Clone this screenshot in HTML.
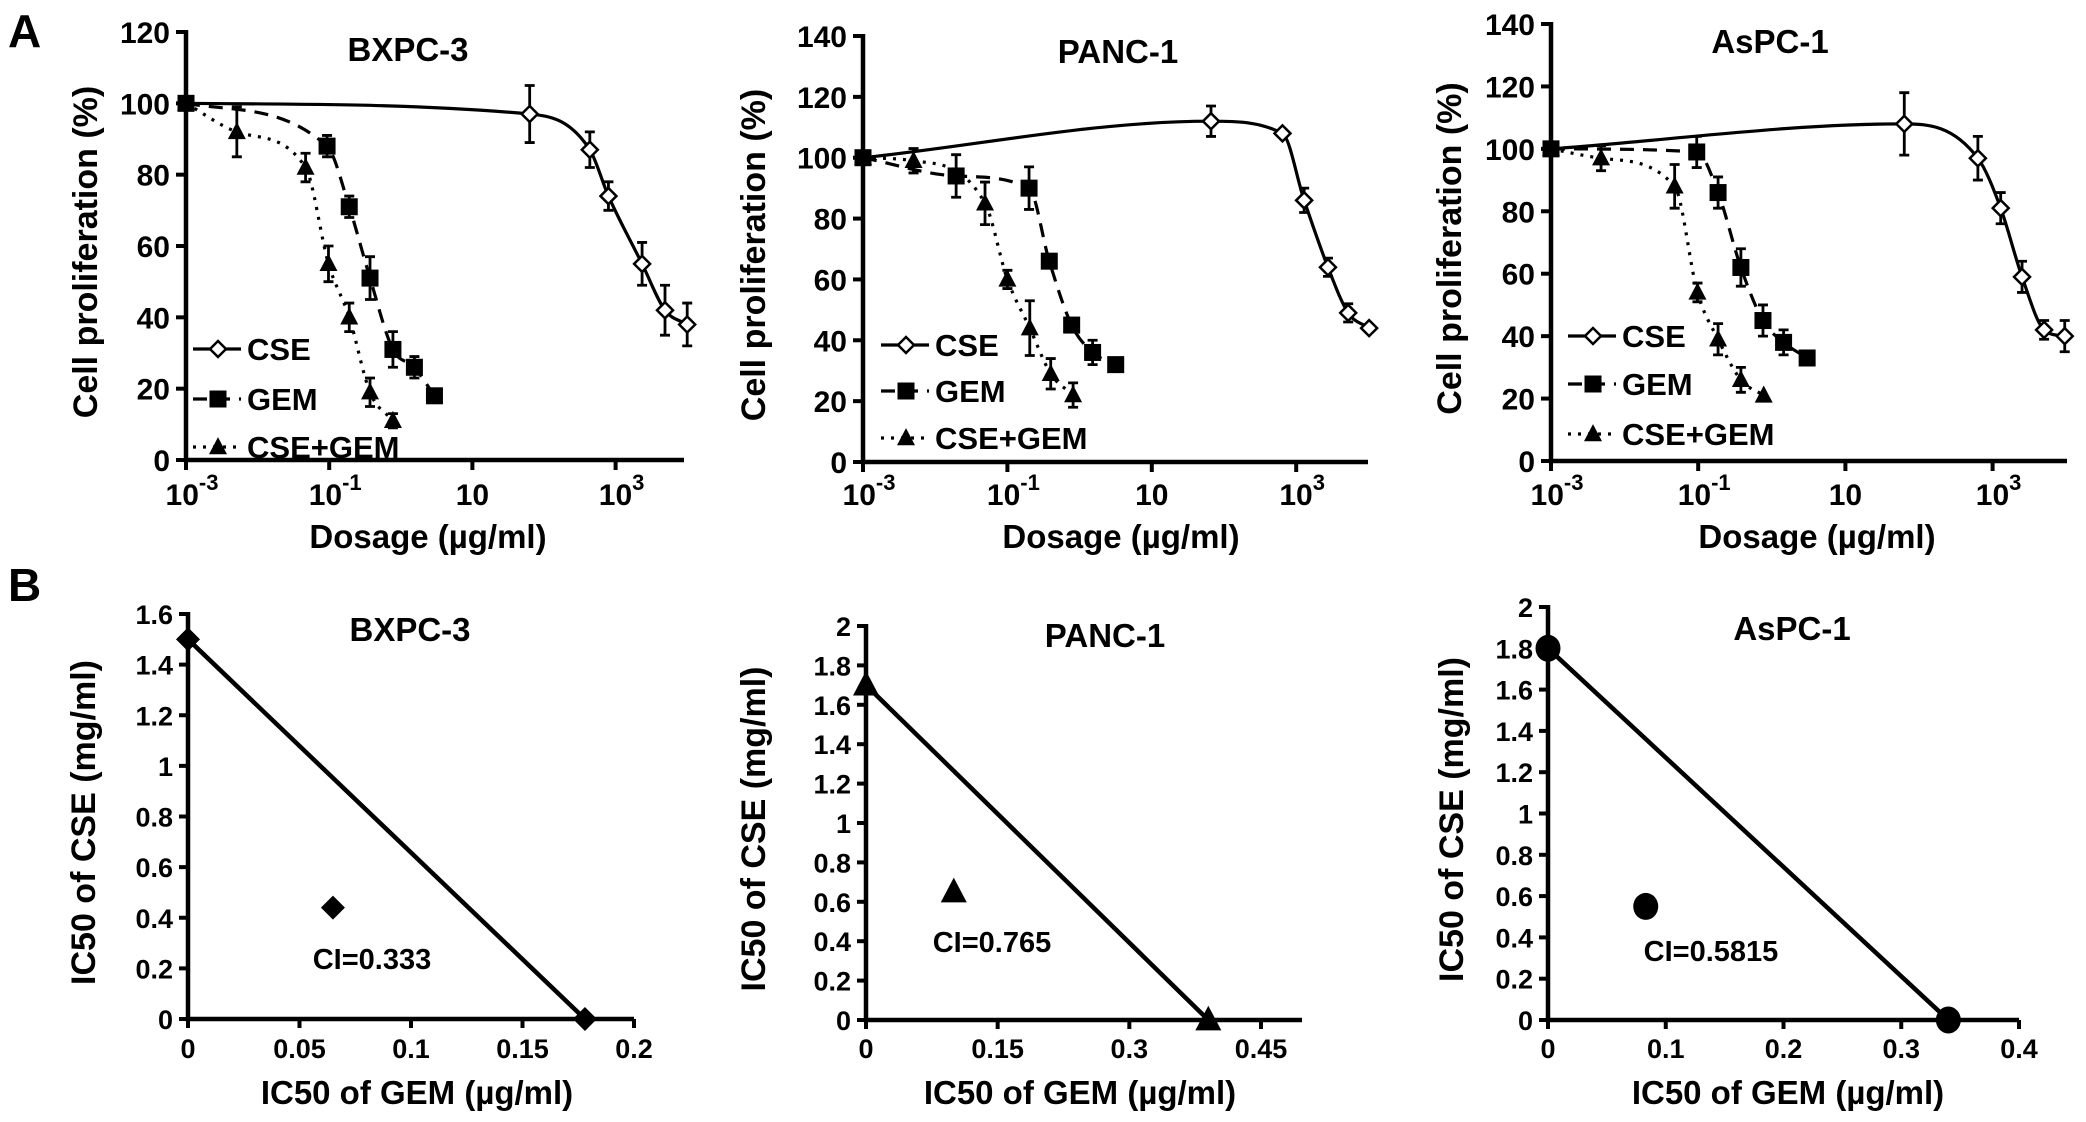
<!DOCTYPE html>
<html><head><meta charset="utf-8">
<style>
html,body{margin:0;padding:0;background:#fff;}
svg{display:block;font-family:"Liberation Sans",Arial,sans-serif;font-weight:bold;}
</style></head>
<body>
<svg id="fig" width="2086" height="1122" viewBox="0 0 2086 1122" xmlns="http://www.w3.org/2000/svg">
<rect width="2086" height="1122" fill="#fff"/>
<text x="8" y="47" font-size="46">A</text>
<text x="8" y="601" font-size="46">B</text>
</svg>
<script>
// ---------- Panel A data (log10 dose, % proliferation, error) ----------
const bxCseX = [-3, 1.8, 2.64, 2.9, 3.37, 3.69, 4.0];
const bxCseY = [100, 97, 87, 74, 55, 42, 38];
const bxCseE = [0, 8, 5, 4, 6, 7, 6];
const bxGemX = [-3, -1.03, -0.72, -0.43, -0.11, 0.19, 0.47];
const bxGemY = [100, 88, 71, 51, 31, 26, 18];
const bxGemE = [0, 3, 3, 6, 5, 3, 0];
const bxCgX = [-3, -2.29, -1.33, -1.01, -0.72, -0.43, -0.11];
const bxCgY = [100, 92, 82, 55, 40, 19, 11];
const bxCgE = [0, 7, 4, 5, 4, 4, 2];

const paCseX = [-3, 1.82, 2.81, 3.11, 3.44, 3.72, 4.01];
const paCseY = [100, 112, 108, 86, 64, 49, 44];
const paCseE = [0, 5, 0, 4, 3, 3, 0];
const paGemX = [-3, -1.71, -0.70, -0.42, -0.11, 0.18, 0.50];
const paGemY = [100, 94, 90, 66, 45, 36, 32];
const paGemE = [0, 7, 7, 2, 2, 4, 2];
const paCgX = [-3, -2.30, -1.31, -1.0, -0.69, -0.40, -0.09];
const paCgY = [100, 99, 85, 60, 44, 29, 22];
const paCgE = [0, 4, 7, 3, 9, 5, 4];

const asCseX = [-3, 1.80, 2.80, 3.11, 3.40, 3.70, 3.98];
const asCseY = [100, 108, 97, 81, 59, 42, 40];
const asCseE = [0, 10, 7, 5, 5, 3, 5];
const asGemX = [-3, -1.02, -0.73, -0.42, -0.12, 0.16, 0.48];
const asGemY = [100, 99, 86, 62, 45, 38, 33];
const asGemE = [0, 5, 5, 6, 5, 4, 2];
const asCgX = [-3, -2.32, -1.32, -1.01, -0.73, -0.42, -0.11];
const asCgY = [100, 97, 88, 54, 39, 26, 21];
const asCgE = [0, 4, 7, 3, 5, 4, 0];

const yTicksA1 = [0, 20, 40, 60, 80, 100, 120];
const yTicksA23 = [0, 20, 40, 60, 80, 100, 120, 140];
const xTickExp = [-3, -1, 1, 3];
const seriesNames = ["CSE", "GEM", "CSE+GEM"];

// ---------- Panel B data ----------
const bxIsoGem = [0, 0.178];
const bxIsoCse = [1.5, 0];
const bxCombo = [0.065, 0.44];
const paIsoGem = [0, 0.39];
const paIsoCse = [1.7, 0];
const paCombo = [0.1, 0.65];
const asIsoGem = [0, 0.34];
const asIsoCse = [1.8, 0];
const asCombo = [0.083, 0.55];
const bxXTicks = [0, 0.05, 0.1, 0.15, 0.2];
const bxYTicks = [0, 0.2, 0.4, 0.6, 0.8, 1, 1.2, 1.4, 1.6];
const paXTicks = [0, 0.15, 0.3, 0.45];
const paYTicks = [0, 0.2, 0.4, 0.6, 0.8, 1, 1.2, 1.4, 1.6, 1.8, 2];
const asXTicks = [0, 0.1, 0.2, 0.3, 0.4];
const asYTicks = [0, 0.2, 0.4, 0.6, 0.8, 1, 1.2, 1.4, 1.6, 1.8, 2];
const ciLabels = ["CI=0.333", "CI=0.765", "CI=0.5815"];
const titles = ["BXPC-3", "PANC-1", "AsPC-1"];

const NS = "http://www.w3.org/2000/svg";
const svg = document.getElementById("fig");
function mk(tag, attrs, parent) {
  const e = document.createElementNS(NS, tag);
  for (const k in attrs) e.setAttribute(k, attrs[k]);
  (parent || svg).appendChild(e);
  return e;
}
// monotone cubic (Fritsch-Carlson) through pixel points sorted by x
function monotone(pts) {
  const n = pts.length, dx = [], s = [], m = [];
  for (let i = 0; i < n - 1; i++) { dx[i] = pts[i+1][0] - pts[i][0]; s[i] = (pts[i+1][1] - pts[i][1]) / dx[i]; }
  m[0] = s[0]; m[n-1] = s[n-2];
  for (let i = 1; i < n - 1; i++) m[i] = (s[i-1] * s[i] <= 0) ? 0 : (s[i-1] + s[i]) / 2;
  for (let i = 0; i < n - 1; i++) {
    if (s[i] === 0) { m[i] = 0; m[i+1] = 0; continue; }
    const a = m[i] / s[i], b = m[i+1] / s[i], h = a*a + b*b;
    if (h > 9) { const t = 3 / Math.sqrt(h); m[i] = t*a*s[i]; m[i+1] = t*b*s[i]; }
  }
  let d = "M" + pts[0][0] + "," + pts[0][1];
  for (let i = 0; i < n - 1; i++) {
    const h = dx[i] / 3;
    d += " C" + (pts[i][0] + h) + "," + (pts[i][1] + m[i]*h) + " " + (pts[i+1][0] - h) + "," + (pts[i+1][1] - m[i+1]*h) + " " + pts[i+1][0] + "," + pts[i+1][1];
  }
  return d;
}
function marker(g, type, cx, cy, s) {
  let m;
  if (type === "diamond") m = mk("polygon", {points: `${cx},${cy-s} ${cx+s},${cy} ${cx},${cy+s} ${cx-s},${cy}`, fill: "#fff", stroke: "#000", "stroke-width": 2.5}, g);
  else if (type === "square") m = mk("rect", {x: cx - s, y: cy - s, width: 2 * s, height: 2 * s, fill: "#000"}, g);
  else if (type === "triangle") m = mk("polygon", {points: `${cx},${cy-s*1.1} ${cx+s},${cy+s*0.8} ${cx-s},${cy+s*0.8}`, fill: "#000"}, g);
  else if (type === "fdiamond") m = mk("polygon", {points: `${cx},${cy-s} ${cx+s},${cy} ${cx},${cy+s} ${cx-s},${cy}`, fill: "#000"}, g);
  else m = mk("ellipse", {cx: cx, cy: cy, rx: s, ry: s * 1.08, fill: "#000"}, g);
  return m;
}

// ---------- Panel A ----------
const panelsA = [
  {ax: 186, y0: 460, ytop: 32, ymax: 120, dec: 71.6, xend: 684, yt: yTicksA1, title: titles[0], tx: 408, ty: 61, legX: 247, legY: [349, 399, 447], xlab: 428, ylab: 85,
   s: [[bxCseX, bxCseY, bxCseE], [bxGemX, bxGemY, bxGemE], [bxCgX, bxCgY, bxCgE]]},
  {ax: 863, y0: 462, ytop: 36, ymax: 140, dec: 72.2, xend: 1368, yt: yTicksA23, title: titles[1], tx: 1118, ty: 63, legX: 935, legY: [345, 391, 438], xlab: 1121, ylab: 753,
   s: [[paCseX, paCseY, paCseE], [paGemX, paGemY, paGemE], [paCgX, paCgY, paCgE]]},
  {ax: 1551, y0: 461, ytop: 24, ymax: 140, dec: 73.6, xend: 2067, yt: yTicksA23, title: titles[2], tx: 1770, ty: 53, legX: 1622, legY: [336, 384, 434], xlab: 1817, ylab: 1449,
   s: [[asCseX, asCseY, asCseE], [asGemX, asGemY, asGemE], [asCgX, asCgY, asCgE]]}
];
const styles = [
  {dash: "none", mk: "diamond", ms: 8},
  {dash: "14,9", mk: "square", ms: 8.5},
  {dash: "3,7", mk: "triangle", ms: 9}
];
const mkNames = ["cse", "gem", "cse-gem"];
panelsA.forEach((P, pi) => {
  const g = mk("g", {});
  
  
  const X = v => P.ax + (v + 3) * P.dec;
  const Y = v => P.y0 - (v / P.ymax) * (P.y0 - P.ytop);
  P.yt.forEach(t => {
    const tl = mk("line", {x1: P.ax - 10, x2: P.ax, y1: Y(t), y2: Y(t), stroke: "#000", "stroke-width": 4}, g);
    
    
    const tx = mk("text", {x: P.ax - 16, y: Y(t) + 11, "font-size": 30, "text-anchor": "end"}, g);
    tx.textContent = t;
    
    
  });
  xTickExp.forEach(e => {
    const tl = mk("line", {x1: X(e), x2: X(e), y1: P.y0, y2: P.y0 + 10, stroke: "#000", "stroke-width": 4}, g);
    
    
    const tx = mk("text", {x: X(e), y: 505, "font-size": 30, "text-anchor": "middle"}, g);
    
    
    if (e === 1) { tx.textContent = "10"; }
    else {
      tx.setAttribute("x", X(e) + 6);
      const a = mk("tspan", {}, tx); a.textContent = "10";
      const b = mk("tspan", {dy: -15, "font-size": 22}, tx); b.textContent = String(e);
    }
  });
  const axes = mk("path", {d: `M${P.ax},${P.ytop - 2} V${P.y0} H${P.xend}`, fill: "none", stroke: "#000", "stroke-width": 4.5}, g);
  
  
  const t = mk("text", {x: P.tx, y: P.ty, "font-size": 33, "text-anchor": "middle"}, g);
  t.textContent = P.title;
  
  
  const xl = mk("text", {x: P.xlab, y: 548, "font-size": 33, "text-anchor": "middle"}, g);
  xl.textContent = "Dosage (µg/ml)";
  
  
  const yl = mk("text", {x: 0, y: 0, "font-size": 34, "text-anchor": "middle", transform: `translate(${P.ylab + 12},${(P.y0 + P.ytop) / 2 + 6}) rotate(-90)`}, g);
  yl.textContent = "Cell proliferation (%)";
  
  
  P.s.forEach((S, si) => {
    const st = styles[si];
    const sg = mk("g", {}, g);
    
    
    const pts = S[0].map((x, i) => [X(x), Y(S[1][i])]);
    const ln = mk("path", {d: monotone(pts), fill: "none", stroke: "#000", "stroke-width": 3.2, "stroke-dasharray": st.dash}, sg);
    
    
    S[0].forEach((x, i) => {
      const e = S[2][i];
      if (e > 0) {
        const cx = X(x), y1 = Y(S[1][i] + e), y2 = Y(S[1][i] - e);
        const eb = mk("path", {d: `M${cx},${y1} V${y2} M${cx - 5},${y1} H${cx + 5} M${cx - 5},${y2} H${cx + 5}`, stroke: "#000", "stroke-width": 2.8, fill: "none"}, sg);
        
        
      }
      const m = marker(sg, st.mk, X(x), Y(S[1][i]), st.ms);
      
      
    });
    const ly = P.legY[si];
    const lg = mk("g", {}, g);
    
    
    mk("line", {x1: P.legX - 54, x2: P.legX - 6, y1: ly, y2: ly, stroke: "#000", "stroke-width": 3.2, "stroke-dasharray": st.dash}, lg);
    marker(lg, st.mk, P.legX - 29, ly, st.ms);
    const lt = mk("text", {x: P.legX, y: ly + 11, "font-size": 31}, lg);
    lt.textContent = seriesNames[si];
  });
});

// ---------- Panel B ----------
const panelsB = [
  {ax: 188, y0: 1019, ytop: 614, ymax: 1.6, xr: 634, xmax: 0.2, xt: bxXTicks, yt: bxYTicks, gem: bxIsoGem, cse: bxIsoCse, c: bxCombo, mk: "fdiamond", ms: 12, tx: 410, ty: 641, ci: ciLabels[0], cix: 372, ciy: 969, xlab: 417, ylab: 83},
  {ax: 866, y0: 1020, ytop: 626, ymax: 2, xr: 1261, xmax: 0.45, xt: paXTicks, yt: paYTicks, gem: paIsoGem, cse: paIsoCse, c: paCombo, mk: "triangle", ms: 13, tx: 1105, ty: 647, ci: ciLabels[1], cix: 992, ciy: 952, xlab: 1080, ylab: 753, xend: 1302},
  {ax: 1548, y0: 1020, ytop: 607, ymax: 2, xr: 2019, xmax: 0.4, xt: asXTicks, yt: asYTicks, gem: asIsoGem, cse: asIsoCse, c: asCombo, mk: "circle", ms: 12.5, tx: 1792, ty: 640, ci: ciLabels[2], cix: 1711, ciy: 961, xlab: 1788, ylab: 1451}
];
panelsB.forEach((P, pi) => {
  const g = mk("g", {});
  
  
  const X = v => P.ax + (v / P.xmax) * (P.xr - P.ax);
  const Y = v => P.y0 - (v / P.ymax) * (P.y0 - P.ytop);
  P.yt.forEach(t => {
    const tl = mk("line", {x1: P.ax - 9, x2: P.ax, y1: Y(t), y2: Y(t), stroke: "#000", "stroke-width": 4}, g);
    
    
    const tx = mk("text", {x: P.ax - 15, y: Y(t) + 10, "font-size": 27, "text-anchor": "end"}, g);
    tx.textContent = t;
    
    
  });
  P.xt.forEach(t => {
    const tl = mk("line", {x1: X(t), x2: X(t), y1: P.y0, y2: P.y0 + 9, stroke: "#000", "stroke-width": 4}, g);
    
    
    const tx = mk("text", {x: X(t), y: 1058, "font-size": 27, "text-anchor": "middle"}, g);
    tx.textContent = t;
    
    
  });
  const xe = P.xend || P.xr;
  const axes = mk("path", {d: `M${P.ax},${P.ytop - 2} V${P.y0} H${xe}`, fill: "none", stroke: "#000", "stroke-width": 4.5}, g);
  
  
  const iso = mk("line", {x1: X(P.gem[0]), y1: Y(P.cse[0]), x2: X(P.gem[1]), y2: Y(P.cse[1]), stroke: "#000", "stroke-width": 4.5}, g);
  
  
  [[P.gem[0], P.cse[0]], [P.gem[1], P.cse[1]]].forEach(p => {
    const m = marker(g, P.mk, X(p[0]), Y(p[1]), P.ms);
    
    
  });
  const cm = marker(g, P.mk, X(P.c[0]), Y(P.c[1]), P.ms);
  
  
  const ci = mk("text", {x: P.cix, y: P.ciy, "font-size": 29, "text-anchor": "middle"}, g);
  ci.textContent = P.ci;
  
  
  const t = mk("text", {x: P.tx, y: P.ty, "font-size": 33, "text-anchor": "middle"}, g);
  t.textContent = titles[pi];
  
  
  const xl = mk("text", {x: P.xlab, y: 1104, "font-size": 33, "text-anchor": "middle"}, g);
  xl.textContent = "IC50 of GEM (µg/ml)";
  
  
  const yl = mk("text", {x: 0, y: 0, "font-size": 34, "text-anchor": "middle", transform: `translate(${P.ylab + 12},${(P.y0 + P.ytop) / 2 + 6}) rotate(-90)`}, g);
  yl.textContent = "IC50 of CSE (mg/ml)";
  
  
});
</script>
</body></html>
